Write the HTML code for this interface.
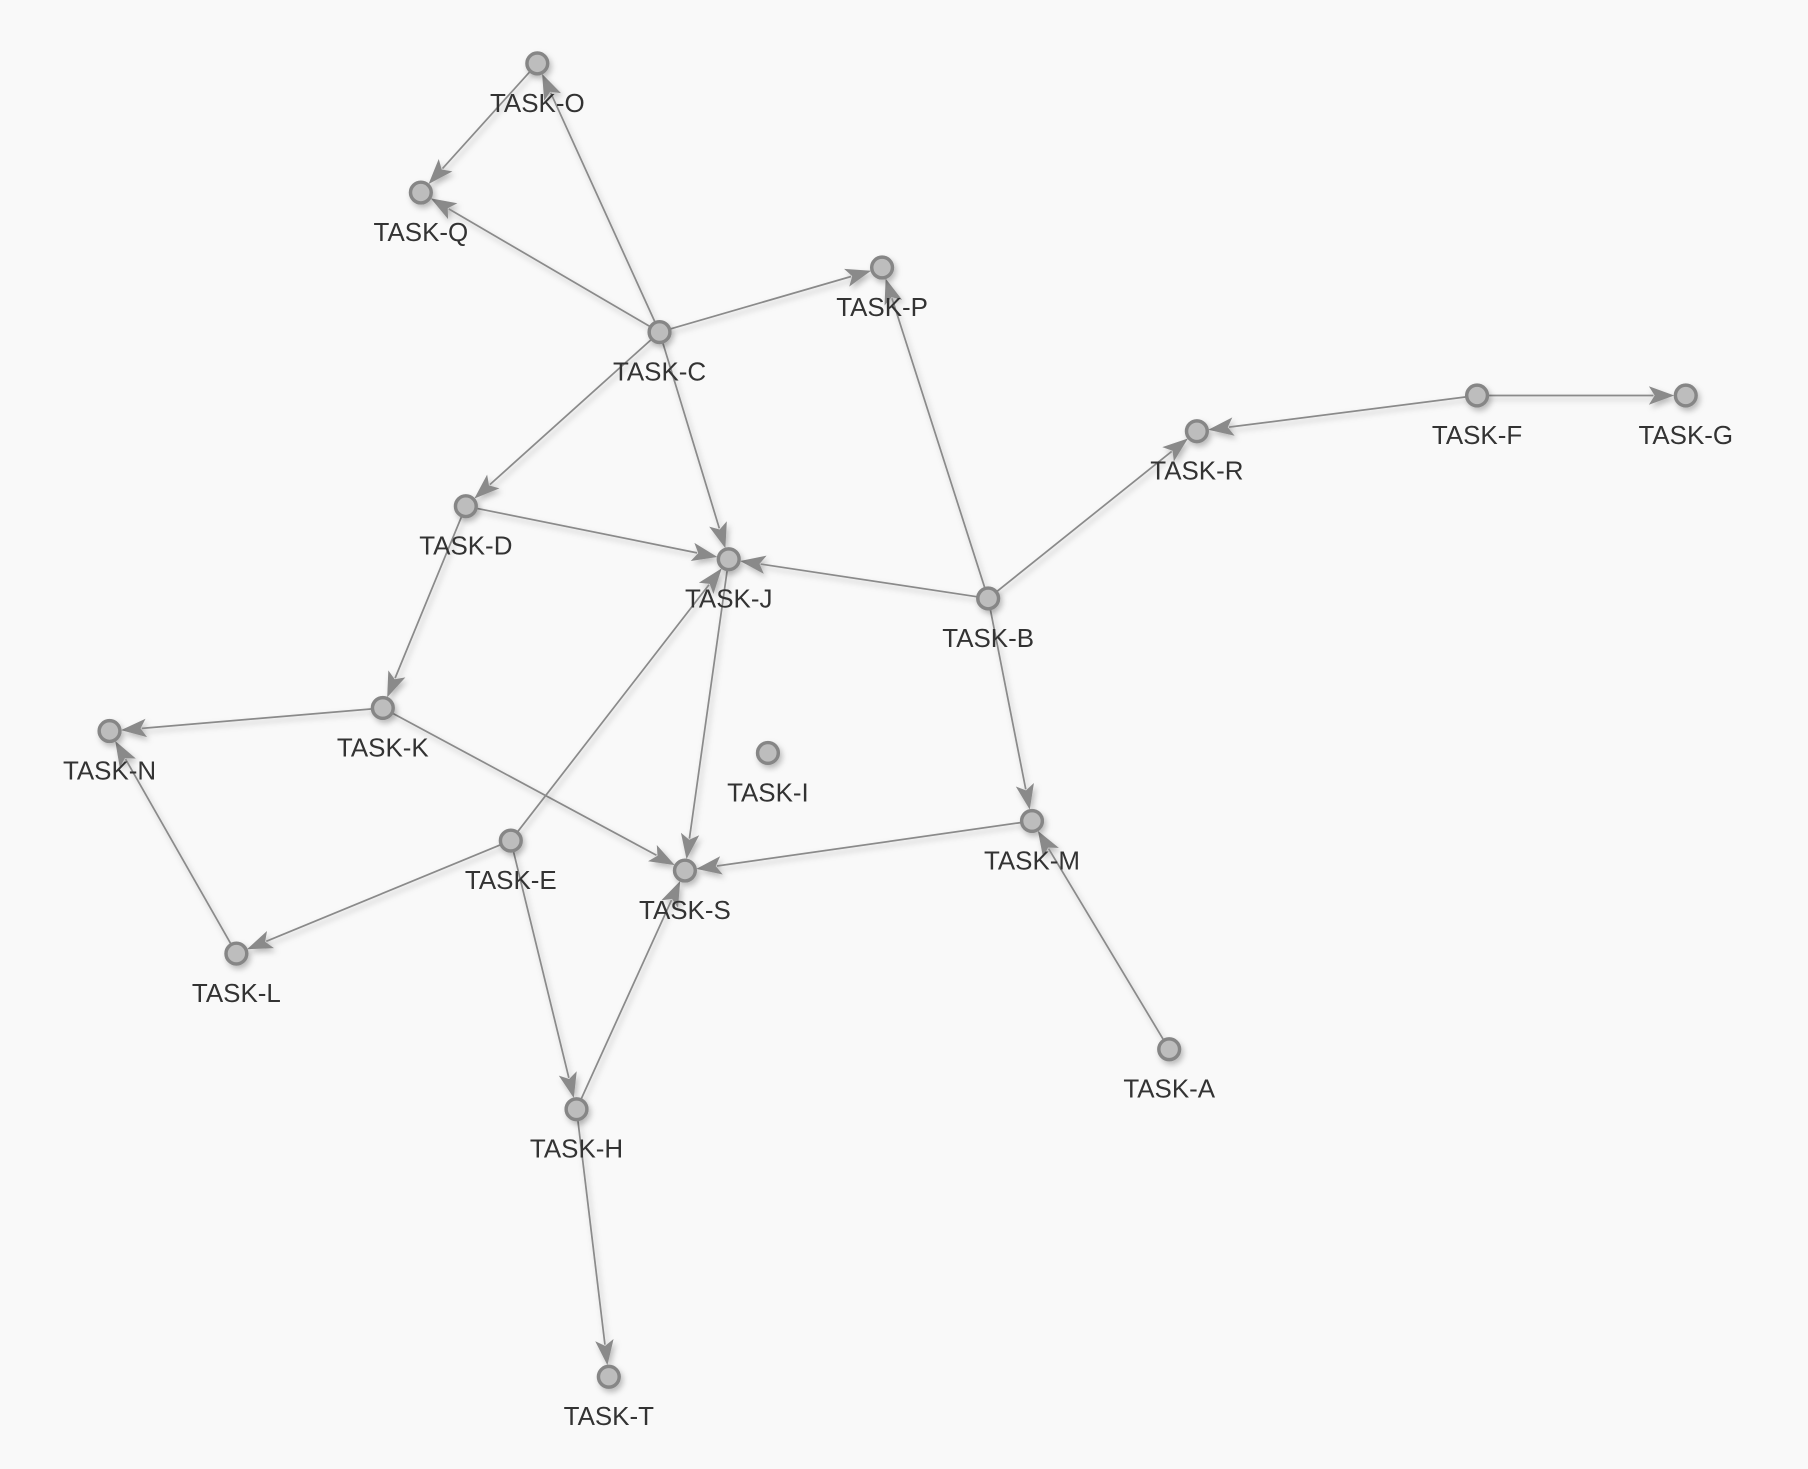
<!DOCTYPE html>
<html><head><meta charset="utf-8"><style>
html,body{margin:0;padding:0;background:#f9f9f9;}
svg{display:block}
</style></head><body>
<svg id="chart" width="1808" height="1469" viewBox="0 0 1568 1274" xmlns="http://www.w3.org/2000/svg">
<defs>
<filter id="sh" x="-50%" y="-50%" width="200%" height="200%"><feDropShadow dx="2" dy="3" stdDeviation="2.5" flood-color="#000" flood-opacity="0.25"/></filter>
</defs>
<rect width="1568" height="1274" fill="#f9f9f9"/>
<g id="edges"></g>
<g id="nodes"></g>
</svg>
<script>
const nodeNames = ["TASK-O","TASK-Q","TASK-P","TASK-C","TASK-F","TASK-G","TASK-R","TASK-D","TASK-J","TASK-B","TASK-K","TASK-N","TASK-I","TASK-M","TASK-E","TASK-S","TASK-L","TASK-A","TASK-H","TASK-T"];
const nodeX = [466,365,765,572,1281,1462,1038,404,632,857,332,95,666,895,443,594,205,1014,500,528];
const nodeY = [55,167,232,288,343,343,374,439,485,519,614,634,653,712,729,755,827,910,962,1194];
const edgeSource = ["TASK-O","TASK-C","TASK-C","TASK-C","TASK-C","TASK-C","TASK-D","TASK-B","TASK-B","TASK-B","TASK-F","TASK-F","TASK-B","TASK-D","TASK-K","TASK-K","TASK-E","TASK-E","TASK-L","TASK-E","TASK-H","TASK-M","TASK-A","TASK-H","TASK-J"];
const edgeTarget = ["TASK-Q","TASK-O","TASK-Q","TASK-P","TASK-D","TASK-J","TASK-J","TASK-J","TASK-P","TASK-R","TASK-R","TASK-G","TASK-M","TASK-K","TASK-N","TASK-S","TASK-J","TASK-L","TASK-N","TASK-H","TASK-S","TASK-S","TASK-M","TASK-T","TASK-S"];
const NS="http://www.w3.org/2000/svg";
const eg=document.getElementById('edges'), ng=document.getElementById('nodes');
const idx=n=>nodeNames.indexOf(n);
const R=10, AL=22, AW=8;
for(let i=0;i<edgeSource.length;i++){
  const a=idx(edgeSource[i]), b=idx(edgeTarget[i]);
  const x1=nodeX[a],y1=nodeY[a],x2=nodeX[b],y2=nodeY[b];
  const dx=x2-x1,dy=y2-y1,L=Math.hypot(dx,dy),ux=dx/L,uy=dy/L;
  const tx=x2-ux*R,ty=y2-uy*R, bx=tx-ux*AL,by=ty-uy*AL;
  const g=document.createElementNS(NS,'g');
  
  
  g.setAttribute('filter','url(#sh)');
  const ln=document.createElementNS(NS,'line');
  ln.setAttribute('x1',x1);ln.setAttribute('y1',y1);ln.setAttribute('x2',bx+ux*4);ln.setAttribute('y2',by+uy*4);
  ln.setAttribute('stroke','#8a8a8a');ln.setAttribute('stroke-width','1.5');
  const ar=document.createElementNS(NS,'polygon');
  ar.setAttribute('points',`${tx},${ty} ${bx-uy*AW},${by+ux*AW} ${bx+ux*5},${by+uy*5} ${bx+uy*AW},${by-ux*AW}`);
  ar.setAttribute('fill','#8a8a8a');
  g.appendChild(ln);g.appendChild(ar);eg.appendChild(g);
}
for(let i=0;i<nodeNames.length;i++){
  const g=document.createElementNS(NS,'g');
  
  
  const c=document.createElementNS(NS,'circle');
  c.setAttribute('cx',nodeX[i]);c.setAttribute('cy',nodeY[i]);c.setAttribute('r','9');
  c.setAttribute('fill','#bdbdbd');c.setAttribute('stroke','#868686');c.setAttribute('stroke-width','3');
  c.setAttribute('filter','url(#sh)');
  const t=document.createElementNS(NS,'text');
  t.setAttribute('x',nodeX[i]);t.setAttribute('y',nodeY[i]+42);
  t.setAttribute('text-anchor','middle');t.setAttribute('font-size','22.5');
  t.setAttribute('font-family','"Liberation Sans", Arial, sans-serif');t.setAttribute('fill','#333');
  t.textContent=nodeNames[i];
  g.appendChild(c);g.appendChild(t);ng.appendChild(g);
}
</script>
</body></html>
